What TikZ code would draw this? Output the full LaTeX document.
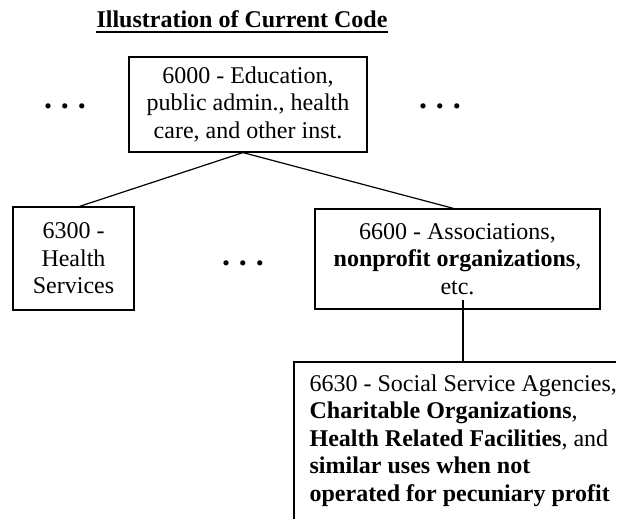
\documentclass[tikz,border=0pt]{standalone}
\usepackage{fontspec}
\setmainfont{Liberation Serif}

\newcommand{\more}{\textbf{.\hspace{9pt}.\hspace{9pt}.}}

\begin{document}
\begin{tikzpicture}[x=1pt,y=-1pt,line width=1.2pt,
    every node/.style={font=\fontsize{24}{27.5}\selectfont},
    code/.style={draw,align=center,inner sep=0pt},
    dots/.style={font=\fontsize{32}{32}\selectfont,inner sep=0pt}]
    \useasboundingbox (0,0) rectangle (630,520);

    \node[inner sep=0pt,anchor=base] (title) at (242,27) {\textbf{Illustration of Current Code}};
    \draw ([yshift=-5pt]title.base west) -- ([yshift=-5pt]title.base east);

    \node[code,minimum width=238pt,minimum height=95pt] (c6000) at (248,104.5)
        {6000 - Education,\\public admin., health\\care, and other inst.};
    \node[dots] (more1) at (65,106) {\more};
    \node[dots] (more2) at (440,106) {\more};

    \node[code,minimum width=121pt,minimum height=103pt] (c6300) at (73.5,258.5)
        {6300 -\\Health\\Services};
    \node[dots] (more3) at (243,263) {\more};
    \node[code,minimum width=285pt,minimum height=100pt] (c6600) at (457.5,259)
        {6600 - Associations,\\\textbf{nonprofit organizations},\\etc.};

    \node[align=left,inner sep=0pt,inner xsep=15pt,anchor=north west,
        minimum height=156pt] (c6630) at (294,362)
        {6630 - Social Service Agencies,\\
         \textbf{Charitable Organizations},\\
         \textbf{Health Related Facilities}, and\\
         \textbf{similar uses when not}\\
         \textbf{operated for pecuniary profit}};
    \draw (c6630.south west) -- (c6630.north west) -- +(322,0);

    \coordinate (etc) at (463,300);

    \draw ([xshift=-5pt]c6000.south) -- ([xshift=6pt]c6300.north);
    \draw ([xshift=-5pt]c6000.south) -- ([xshift=-4pt]c6600.north);
    \draw (etc) -- (etc |- c6630.north);
\end{tikzpicture}
\end{document}
